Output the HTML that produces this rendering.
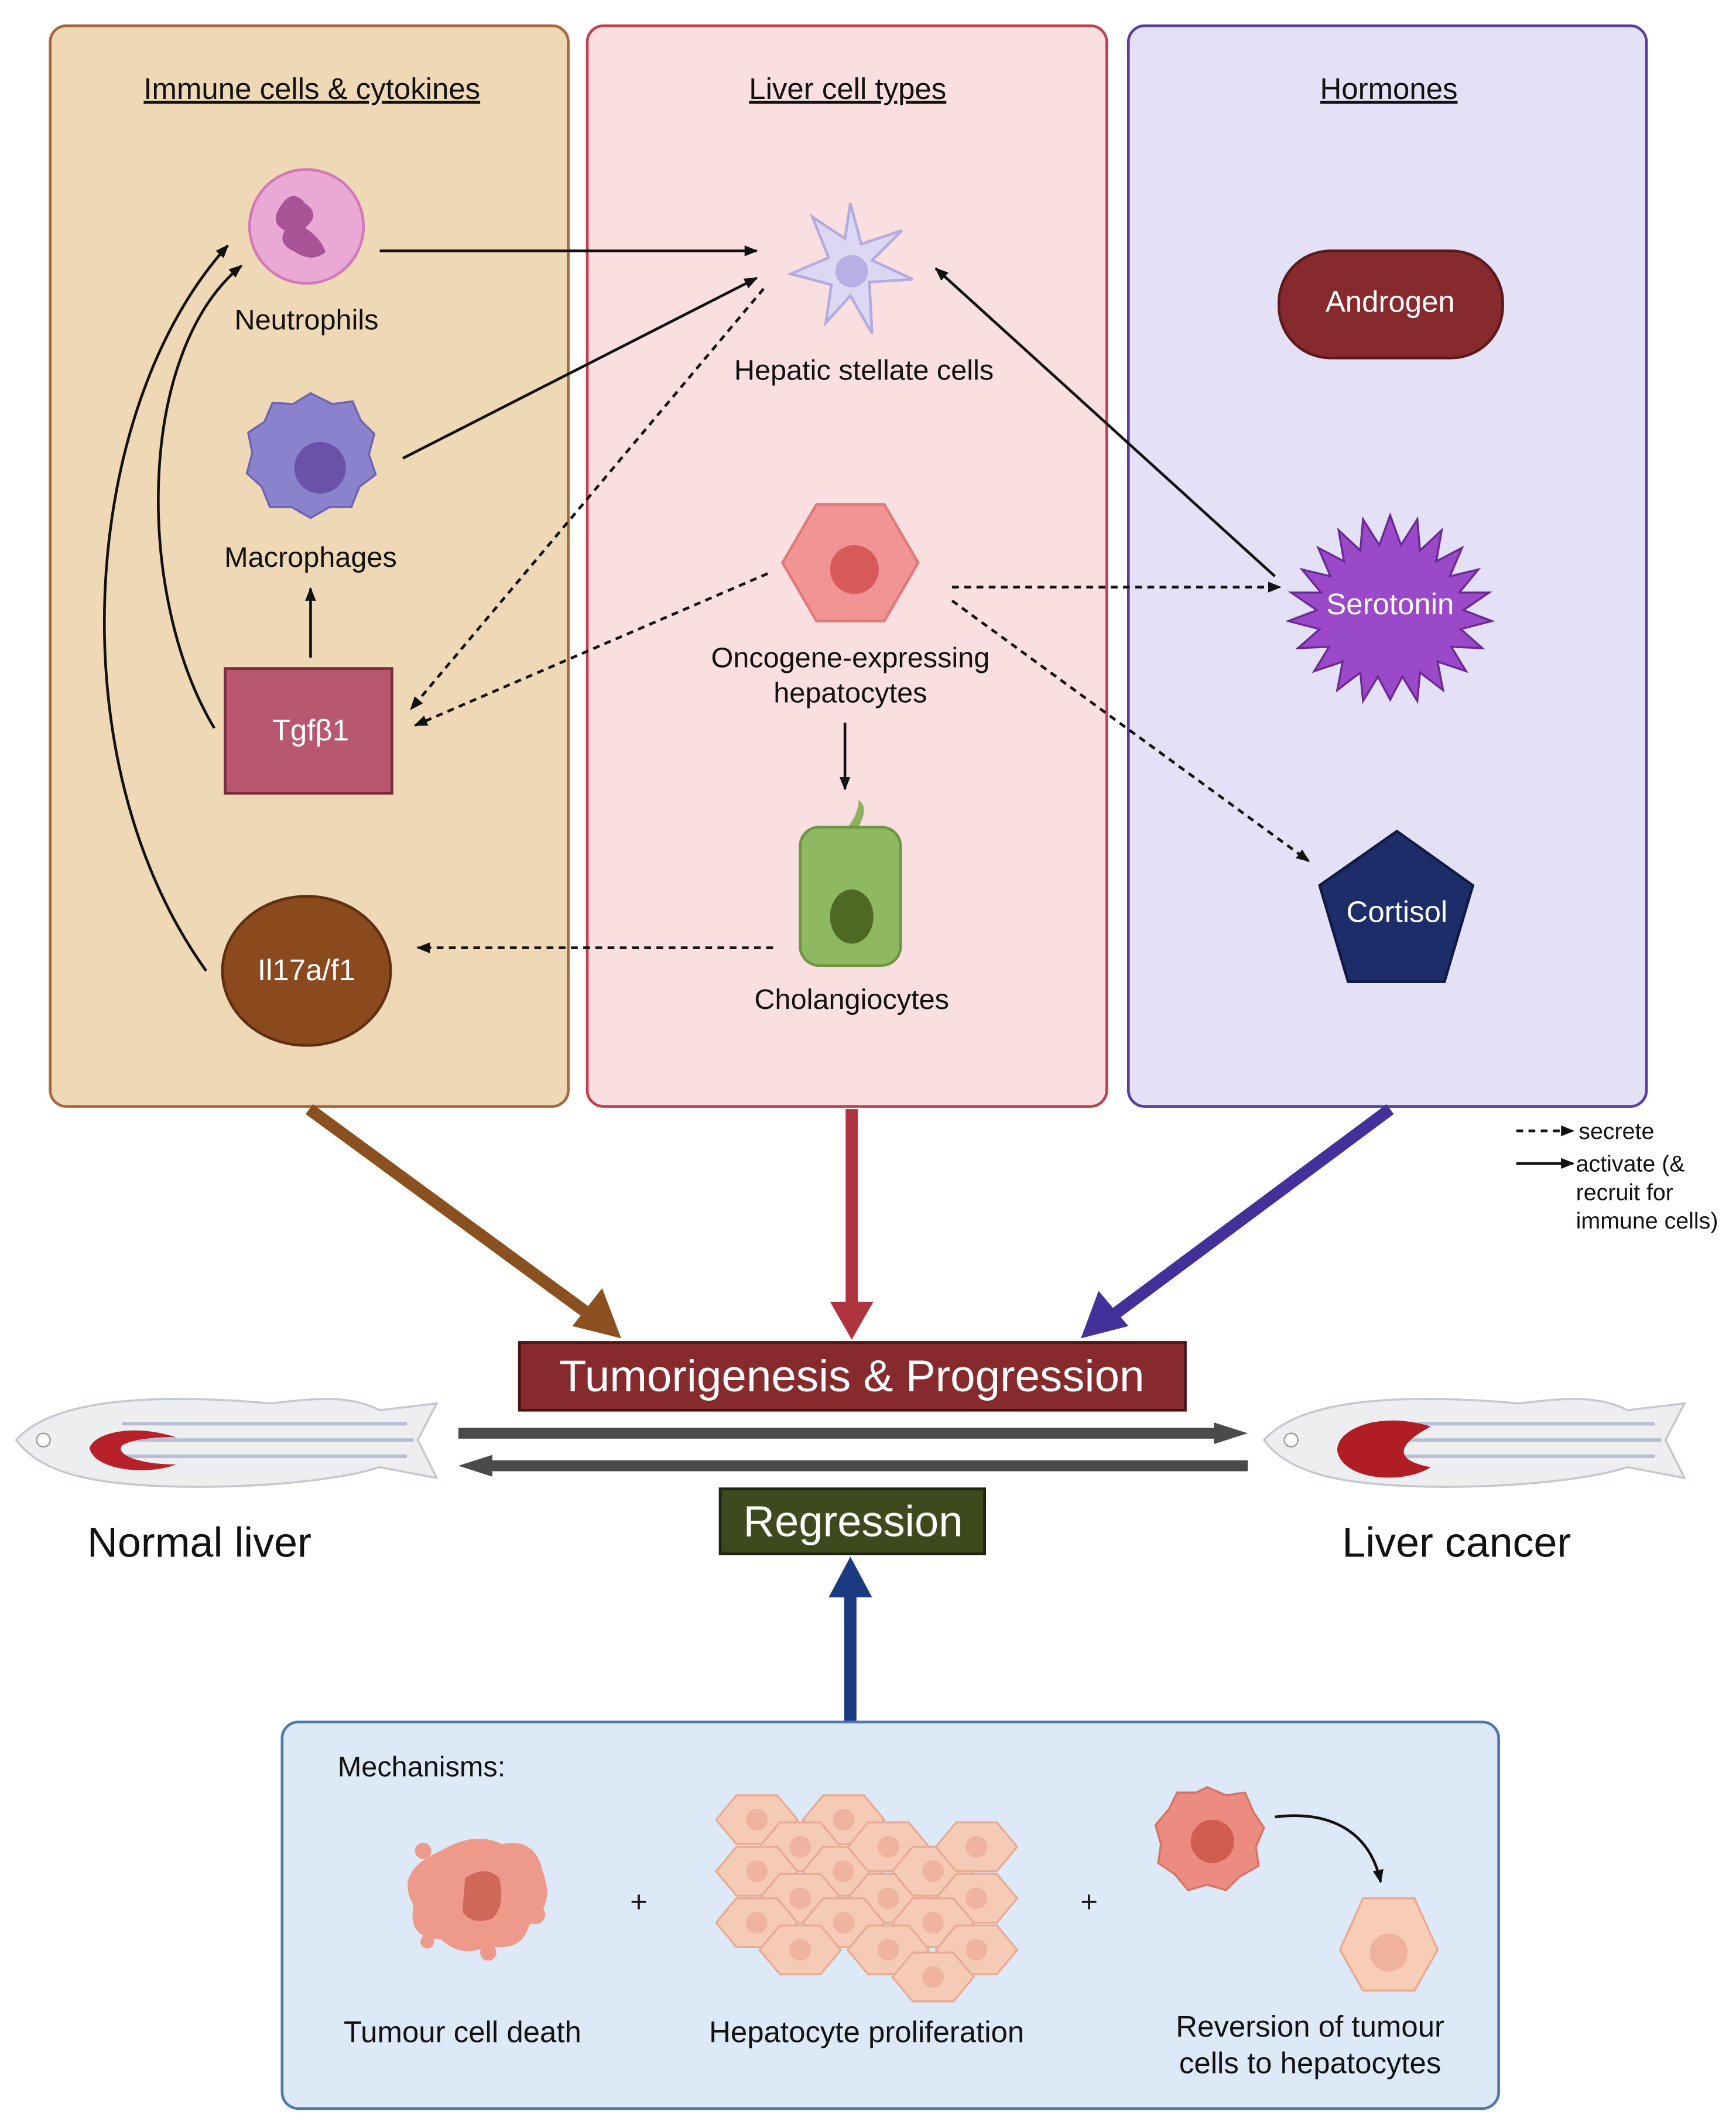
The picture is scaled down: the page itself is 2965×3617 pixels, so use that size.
<!DOCTYPE html>
<html><head><meta charset="utf-8"><style>
html,body{margin:0;padding:0;background:#fff}
svg{display:block}
text{font-family:"Liberation Sans",sans-serif}
</style></head><body>
<svg width="2965" height="3617" viewBox="0 0 1280 1562" preserveAspectRatio="none" xmlns="http://www.w3.org/2000/svg">
<defs>
<marker id="ah" markerWidth="10" markerHeight="8" refX="9" refY="4" orient="auto" markerUnits="userSpaceOnUse"><path d="M0,0 L10,4 L0,8 z" fill="#111"/></marker>
<path id="hx" d="M-15,-18 h30 l15,18 l-15,18 h-30 l-15,-18z"/>
</defs>
<rect width="1280" height="1562" fill="#fff"/>
<!-- panels -->
<rect x="37" y="19" width="382" height="797" rx="12" fill="#efd8b6" stroke="#a8663a" stroke-width="2"/>
<rect x="433" y="19" width="383" height="797" rx="12" fill="#f9dfdf" stroke="#c0414b" stroke-width="2"/>
<rect x="832" y="19" width="382" height="797" rx="12" fill="#e4e1f6" stroke="#5a3d9e" stroke-width="2"/>
<g font-size="22" fill="#111" text-anchor="middle" text-decoration="underline">
<text x="230" y="73">Immune cells &amp; cytokines</text>
<text x="625" y="73">Liver cell types</text>
<text x="1024" y="73">Hormones</text>
</g>

<!-- neutrophil -->
<circle cx="226" cy="167" r="42" fill="#eaa8d4" stroke="#d07ab5" stroke-width="2"/>
<path d="M205,155 q10,-18 20,-5 q12,8 0,18 q12,8 15,18 q-10,8 -22,0 q-14,-6 -8,-16 q-10,-5 -5,-15z" fill="#a85496"/>
<!-- macrophage -->
<path d="M229,290 l16,8 l15,-2 l6,14 l10,10 l-4,15 l5,15 l-12,9 l-6,15 l-16,0 l-14,8 l-14,-8 l-16,0 l-6,-15 l-11,-10 l4,-15 l-3,-15 l12,-8 l6,-14 l15,1z" fill="#8a82cc" stroke="#6e62b4" stroke-width="1.5"/>
<circle cx="236" cy="345" r="19" fill="#6a52a8"/>
<g font-size="21" fill="#111" text-anchor="middle">
<text x="226" y="243">Neutrophils</text>
<text x="229" y="418">Macrophages</text>
</g>
<rect x="166" y="493" width="123" height="92" fill="#b85870" stroke="#7a2c3c" stroke-width="2"/>
<text x="229" y="546" font-size="22" fill="#fff" text-anchor="middle">Tgfβ1</text>
<ellipse cx="226" cy="716" rx="62" ry="55" fill="#8b4a1e" stroke="#5e3010" stroke-width="2"/>
<text x="226" y="723" font-size="22" fill="#fff" text-anchor="middle">Il17a/f1</text>

<!-- stellate -->
<path d="M627,150 l8,30 l30,-10 l-22,22 l30,14 l-32,2 l2,38 l-16,-28 l-18,20 l4,-28 l-30,-8 l28,-12 l-12,-30 l24,16z" fill="#dcd8f4" stroke="#b4acdf" stroke-width="2"/>
<circle cx="628" cy="200" r="12" fill="#b8b0e4"/>
<text x="637" y="280" font-size="21" fill="#111" text-anchor="middle">Hepatic stellate cells</text>
<!-- hepatocyte -->
<path d="M602,372 l50,0 l25,43 l-25,43 l-50,0 l-25,-43z" fill="#f29494" stroke="#e07a7a" stroke-width="2"/>
<circle cx="630" cy="420" r="18" fill="#d95a5a"/>
<text x="627" y="492" font-size="21" fill="#111" text-anchor="middle">Oncogene-expressing</text>
<text x="627" y="518" font-size="21" fill="#111" text-anchor="middle">hepatocytes</text>
<!-- cholangiocyte -->
<path d="M625,610 q8,-10 8,-20 q8,5 0,20z" fill="#8fb060"/>
<rect x="590" y="610" width="74" height="102" rx="14" fill="#8fb862" stroke="#6f9442" stroke-width="2"/>
<ellipse cx="628" cy="676" rx="16" ry="20" fill="#4e6a22"/>
<text x="628" y="744" font-size="21" fill="#111" text-anchor="middle">Cholangiocytes</text>

<!-- hormones -->
<rect x="943" y="185" width="165" height="79" rx="38" fill="#862a2e" stroke="#5a1a1c" stroke-width="2"/>
<text x="1025" y="230" font-size="22" fill="#fff" text-anchor="middle">Androgen</text>
<path d="M1025,380 L1033,402 L1045,383 L1047,406 L1063,391 L1059,414 L1078,404 L1069,425 L1090,420 L1076,437 L1098,437 L1079,450 L1100,458 L1077,464 L1093,478 L1070,477 L1081,495 L1060,488 L1064,509 L1047,496 L1045,517 L1034,499 L1025,516 L1016,499 L1005,517 L1003,496 L986,509 L990,488 L969,495 L980,477 L957,478 L973,464 L950,458 L971,450 L952,437 L974,437 L960,420 L981,425 L972,404 L991,414 L987,391 L1003,406 L1005,383 L1017,402z" fill="#9a4ac8" stroke="#6a2a96" stroke-width="1.5"/>
<text x="1025" y="453" font-size="22" fill="#fff" text-anchor="middle">Serotonin</text>
<path d="M1030,613 L1086,653 L1065,724 L994,724 L973,653z" fill="#1d2d6a" stroke="#111a44" stroke-width="2"/>
<text x="1030" y="680" font-size="22" fill="#fff" text-anchor="middle">Cortisol</text>

<!-- connectors -->
<g stroke="#111" stroke-width="2" fill="none" marker-end="url(#ah)">
<line x1="280" y1="185" x2="558" y2="185"/>
<line x1="297" y1="338" x2="558" y2="205"/>
<line x1="940" y1="425" x2="690" y2="198"/>
<line x1="229" y1="485" x2="229" y2="434"/>
<line x1="623" y1="533" x2="623" y2="582"/>
<path d="M158,537 C100,440 100,260 178,196"/>
<path d="M152,716 C40,560 60,300 168,181"/>
</g>
<g stroke="#111" stroke-width="2" fill="none" stroke-dasharray="5,4" marker-end="url(#ah)">
<line x1="563" y1="213" x2="303" y2="523"/>
<line x1="566" y1="423" x2="306" y2="535"/>
<line x1="702" y1="433" x2="944" y2="433"/>
<line x1="702" y1="443" x2="965" y2="635"/>
<line x1="570" y1="699" x2="308" y2="699"/>
</g>

<!-- legend -->
<g stroke="#111" stroke-width="2" marker-end="url(#ah)">
<line x1="1118" y1="834" x2="1160" y2="834" stroke-dasharray="5,4"/>
<line x1="1118" y1="858" x2="1160" y2="858"/>
</g>
<g font-size="17" fill="#111">
<text x="1164" y="840">secrete</text>
<text x="1162" y="864">activate (&amp;</text>
<text x="1162" y="885">recruit for</text>
<text x="1162" y="906">immune cells)</text>
</g>

<!-- big arrows -->
<line x1="228" y1="818" x2="438" y2="972" stroke="#8a5020" stroke-width="9"/>
<path d="M458,987 L422,978 L444,950z" fill="#8a5020"/>
<line x1="628" y1="818" x2="628" y2="965" stroke="#b03440" stroke-width="9"/>
<path d="M628,988 L612,960 L644,960z" fill="#b03440"/>
<line x1="1025" y1="818" x2="818" y2="972" stroke="#43309a" stroke-width="9"/>
<path d="M797,987 L810,952 L832,978z" fill="#43309a"/>

<rect x="383" y="990" width="491" height="50" fill="#862a2e" stroke="#4a1416" stroke-width="2"/>
<text x="628" y="1026" font-size="33" fill="#fff" text-anchor="middle">Tumorigenesis &amp; Progression</text>
<line x1="338" y1="1057" x2="900" y2="1057" stroke="#4a4a4a" stroke-width="8"/>
<path d="M920,1057 L895,1049 L895,1065z" fill="#4a4a4a"/>
<line x1="358" y1="1081" x2="920" y2="1081" stroke="#4a4a4a" stroke-width="8"/>
<path d="M338,1081 L363,1073 L363,1089z" fill="#4a4a4a"/>
<rect x="531" y="1098" width="195" height="48" fill="#3e4a1e" stroke="#1e2410" stroke-width="2"/>
<text x="629" y="1133" font-size="32" fill="#fff" text-anchor="middle">Regression</text>
<line x1="627" y1="1270" x2="627" y2="1175" stroke="#1c3a80" stroke-width="9"/>
<path d="M627,1148 L611,1178 L643,1178z" fill="#1c3a80"/>

<!-- fish -->
<g>
<path d="M12,1062 C40,1030 120,1028 200,1035 C240,1030 260,1030 280,1040 L322,1035 L308,1062 L322,1090 L280,1082 C240,1095 150,1100 90,1094 C50,1090 25,1080 12,1062z" fill="#eceeef" stroke="#c4c8cc" stroke-width="1.5"/>
<g stroke="#b8bcd4" stroke-width="2.5"><line x1="90" y1="1050" x2="300" y2="1050"/><line x1="90" y1="1062" x2="305" y2="1062"/><line x1="90" y1="1074" x2="300" y2="1074"/></g>
<circle cx="32" cy="1062" r="5" fill="#fff" stroke="#999"/>
</g>
<path d="M130,1060 C100,1050 70,1056 66,1068 C70,1085 110,1088 130,1080 C100,1080 85,1072 90,1066 C100,1060 120,1060 130,1060z" fill="#b8202a"/>
<g transform="translate(920,0)">
<path d="M12,1062 C40,1030 120,1028 200,1035 C240,1030 260,1030 280,1040 L322,1035 L308,1062 L322,1090 L280,1082 C240,1095 150,1100 90,1094 C50,1090 25,1080 12,1062z" fill="#eceeef" stroke="#c4c8cc" stroke-width="1.5"/>
<g stroke="#b8bcd4" stroke-width="2.5"><line x1="90" y1="1050" x2="300" y2="1050"/><line x1="90" y1="1062" x2="305" y2="1062"/><line x1="90" y1="1074" x2="300" y2="1074"/></g>
<circle cx="32" cy="1062" r="5" fill="#fff" stroke="#999"/>
<path d="M135,1052 C95,1040 65,1055 66,1070 C70,1092 115,1095 135,1082 C112,1078 105,1068 135,1052z" fill="#b01e24"/>
</g>
<text x="147" y="1148" font-size="31" fill="#111" text-anchor="middle">Normal liver</text>
<text x="1074" y="1148" font-size="31" fill="#111" text-anchor="middle">Liver cancer</text>

<!-- mechanisms -->
<rect x="208" y="1270" width="897" height="285" rx="12" fill="#dde9f7" stroke="#4a78b0" stroke-width="2"/>
<text x="249" y="1310" font-size="21" fill="#111">Mechanisms:</text>
<g fill="#ee9a8a">
<path d="M325,1365 q25,-15 45,-5 q25,-5 30,20 q10,25 -10,40 q-5,20 -30,15 q-20,10 -35,-5 q-25,0 -20,-25 q-15,-25 20,-40z"/>
<circle cx="312" cy="1365" r="6"/><circle cx="395" cy="1412" r="7"/><circle cx="315" cy="1432" r="5"/><circle cx="360" cy="1440" r="6"/>
</g>
<path d="M343,1385 q15,-10 25,0 q5,20 -5,30 q-15,5 -22,-5z" fill="#d0685a"/>
<text x="471" y="1410" font-size="22" fill="#111" text-anchor="middle">+</text>
<text x="803" y="1410" font-size="22" fill="#111" text-anchor="middle">+</text>
<g fill="#f6cbb6" stroke="#e8ac96" stroke-width="1.5">
<use href="#hx" x="558" y="1342"/><use href="#hx" x="622" y="1342"/><use href="#hx" x="590" y="1362"/>
<use href="#hx" x="558" y="1380"/><use href="#hx" x="622" y="1380"/><use href="#hx" x="655" y="1362"/>
<use href="#hx" x="590" y="1400"/><use href="#hx" x="655" y="1400"/><use href="#hx" x="688" y="1380"/>
<use href="#hx" x="720" y="1362"/><use href="#hx" x="720" y="1400"/><use href="#hx" x="558" y="1418"/>
<use href="#hx" x="622" y="1418"/><use href="#hx" x="688" y="1418"/><use href="#hx" x="590" y="1438"/>
<use href="#hx" x="655" y="1438"/><use href="#hx" x="720" y="1438"/><use href="#hx" x="688" y="1458"/>
</g>
<g fill="#eeb4a0">
<circle cx="558" cy="1342" r="8"/><circle cx="622" cy="1342" r="8"/><circle cx="590" cy="1362" r="8"/><circle cx="558" cy="1380" r="8"/><circle cx="622" cy="1380" r="8"/><circle cx="655" cy="1362" r="8"/><circle cx="590" cy="1400" r="8"/><circle cx="655" cy="1400" r="8"/><circle cx="688" cy="1380" r="8"/><circle cx="720" cy="1362" r="8"/><circle cx="720" cy="1400" r="8"/><circle cx="558" cy="1418" r="8"/><circle cx="622" cy="1418" r="8"/><circle cx="688" cy="1418" r="8"/><circle cx="590" cy="1438" r="8"/><circle cx="655" cy="1438" r="8"/><circle cx="720" cy="1438" r="8"/><circle cx="688" cy="1458" r="8"/>
</g>
<path d="M890,1318 l14,6 l14,-2 l6,14 l8,12 l-6,14 l2,14 l-14,8 l-10,10 l-14,-4 l-14,4 l-10,-12 l-12,-8 l2,-14 l-4,-14 l10,-12 l6,-12 l14,0z" fill="#ec8b80" stroke="#d57466" stroke-width="1.5"/>
<circle cx="894" cy="1358" r="16" fill="#cf5e50"/>
<path d="M940,1340 C980,1335 1010,1350 1018,1388" stroke="#111" stroke-width="2" fill="none" marker-end="url(#ah)"/>
<path d="M1005,1400 h38 l17,38 l-17,30 h-38 l-17,-30z" fill="#f7cdb6" stroke="#e8aa92" stroke-width="1.5"/>
<circle cx="1024" cy="1440" r="14" fill="#eeb29e"/>
<g font-size="22" fill="#111" text-anchor="middle">
<text x="341" y="1506">Tumour cell death</text>
<text x="639" y="1506">Hepatocyte proliferation</text>
<text x="966" y="1502">Reversion of tumour</text>
<text x="966" y="1529">cells to hepatocytes</text>
</g>
</svg>
</body></html>
